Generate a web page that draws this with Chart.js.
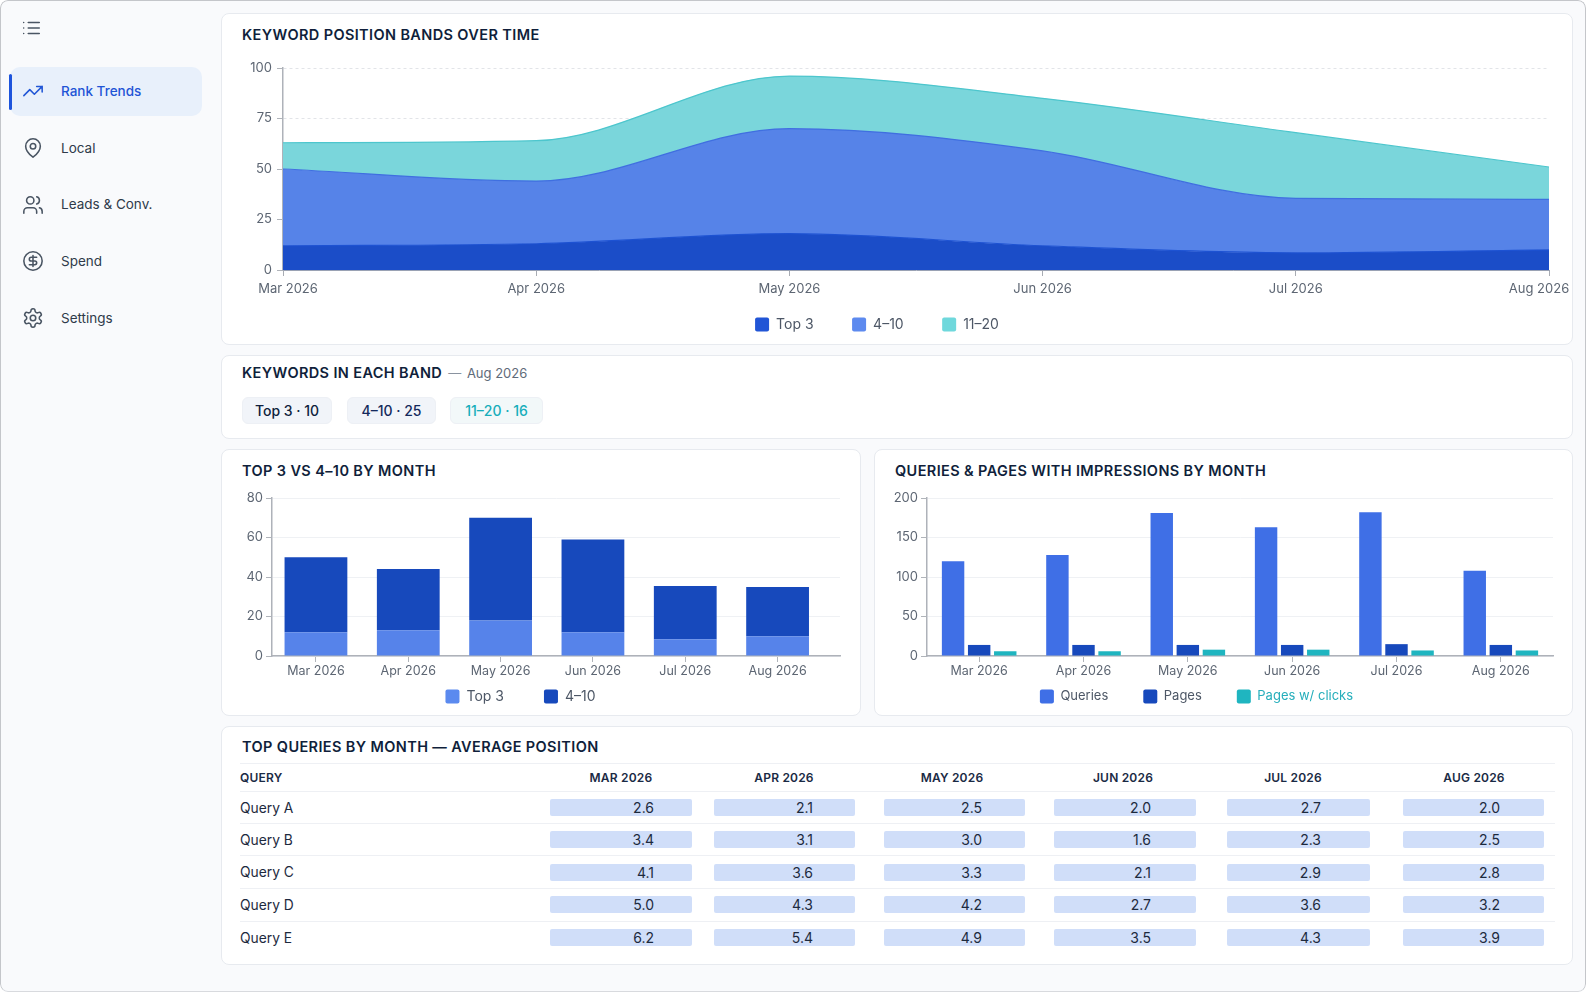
<!DOCTYPE html>
<html><head><meta charset="utf-8"><title>Rank Trends</title>
<script src="https://cdn.jsdelivr.net/npm/chart.js@4"></script>
<style>
*{box-sizing:border-box}
html,body{margin:0;padding:0;width:1586px;height:992px;overflow:hidden;background:#fff;font-family:Inter,"Noto Sans",sans-serif;color:#0f1f3d}
#frame{position:absolute;left:0;top:0;width:1586px;height:992px;background:#f9fafc;border-radius:8px;overflow:hidden}
#edge{position:absolute;left:0;top:0;width:1586px;height:992px;border:1.5px solid #c4c6ca;border-bottom-color:#d8dade;border-radius:8px;pointer-events:none}
.abs{position:absolute}
.card{position:absolute;background:#fff;border:1px solid #e7eaef;border-radius:8px}
.title{position:absolute;font-weight:600;font-size:14.5px;letter-spacing:.38px;line-height:18px;color:#101f3b;white-space:nowrap}
.title small{font-weight:400;font-size:13px;letter-spacing:0;color:#5f6b7a;margin-left:2px}
.title small i{font-style:normal;color:#8a93a0;margin-right:2px}
.nav{position:absolute;left:61px;font-size:13.5px;line-height:20px;color:#2f3a4a;white-space:nowrap}
.ico{position:absolute;left:22px;width:22px;height:22px;fill:none;stroke:#4a5563;stroke-width:1.7;stroke-linecap:round;stroke-linejoin:round}
.pill{position:absolute;top:397px;height:27px;border-radius:6px;background:#f1f4f9;border:1px solid #edf0f5;font-size:14px;line-height:26px;text-align:center;font-weight:500;white-space:nowrap}
canvas{position:absolute;display:block}
.th{position:absolute;font-size:12px;font-weight:600;letter-spacing:.2px;line-height:16px;color:#1a2a44;white-space:nowrap}
.rule{position:absolute;left:240px;width:1315px;height:1px;background:#eef0f4}
.qname{position:absolute;left:240px;font-size:13.8px;line-height:20px;color:#1d2a3e;white-space:nowrap}
.cell{position:absolute;height:17px;border-radius:2px;background:#d0def9;font-size:14px;line-height:17px;color:#1d2a3e;text-align:right;white-space:nowrap}
</style></head>
<body>
<div id="frame">
  <svg class="ico" style="left:20px;top:17px" viewBox="0 0 24 24"><path d="M9 6h12M9 12h12M9 18h12M4 6h.01M4 12h.01M4 18h.01"/></svg>
  <div class="abs" style="left:10px;top:67px;width:192px;height:49px;border-radius:10px;background:#e8f0fb"></div>
  <div class="abs" style="left:9px;top:74px;width:3px;height:36px;border-radius:2px;background:#1d54dc"></div>
  <svg class="ico" style="top:80px;stroke:#2257d6" viewBox="0 0 24 24"><path d="M22 7 13.5 15.5 8.5 10.5 2 17M16 7h6v6"/></svg>
  <div class="nav" style="top:81px;color:#1f55d6;font-weight:500">Rank Trends</div>
  <svg class="ico" style="top:137px" viewBox="0 0 24 24"><path d="M20 10c0 6-8 12-8 12s-8-6-8-12a8 8 0 0 1 16 0Z"/><circle cx="12" cy="10" r="3"/></svg>
  <div class="nav" style="top:138px">Local</div>
  <svg class="ico" style="top:194px" viewBox="0 0 24 24"><path d="M16 21v-2a4 4 0 0 0-4-4H6a4 4 0 0 0-4 4v2M22 21v-2a4 4 0 0 0-3-3.87M16 3.13a4 4 0 0 1 0 7.75"/><circle cx="9" cy="7" r="4"/></svg>
  <div class="nav" style="top:194px">Leads &amp; Conv.</div>
  <svg class="ico" style="top:250px" viewBox="0 0 24 24"><circle cx="12" cy="12" r="10"/><path d="M16 8h-6a2 2 0 1 0 0 4h4a2 2 0 1 1 0 4H8M12 18V6"/></svg>
  <div class="nav" style="top:251px">Spend</div>
  <svg class="ico" style="top:307px" viewBox="0 0 24 24"><path d="M12.22 2h-.44a2 2 0 0 0-2 2v.18a2 2 0 0 1-1 1.73l-.43.25a2 2 0 0 1-2 0l-.15-.08a2 2 0 0 0-2.73.73l-.22.38a2 2 0 0 0 .73 2.73l.15.1a2 2 0 0 1 1 1.72v.51a2 2 0 0 1-1 1.74l-.15.09a2 2 0 0 0-.73 2.73l.22.38a2 2 0 0 0 2.73.73l.15-.08a2 2 0 0 1 2 0l.43.25a2 2 0 0 1 1 1.73V20a2 2 0 0 0 2 2h.44a2 2 0 0 0 2-2v-.18a2 2 0 0 1 1-1.73l.43-.25a2 2 0 0 1 2 0l.15.08a2 2 0 0 0 2.73-.73l.22-.39a2 2 0 0 0-.73-2.73l-.15-.08a2 2 0 0 1-1-1.74v-.5a2 2 0 0 1 1-1.74l.15-.09a2 2 0 0 0 .73-2.73l-.22-.38a2 2 0 0 0-2.73-.73l-.15.08a2 2 0 0 1-2 0l-.43-.25a2 2 0 0 1-1-1.73V4a2 2 0 0 0-2-2z"/><circle cx="12" cy="12" r="3"/></svg>
  <div class="nav" style="top:308px">Settings</div>

  <div class="card" style="left:221px;top:13px;width:1352px;height:332px"></div>
  <div class="title" style="left:242px;top:26px">KEYWORD POSITION BANDS OVER TIME</div>

  <div class="card" style="left:221px;top:355px;width:1352px;height:84px"></div>
  <div class="title" style="left:242px;top:364px">KEYWORDS IN EACH BAND <small><i>—</i> Aug 2026</small></div>
  <div class="pill" style="left:242px;width:90px">Top 3 · 10</div>
  <div class="pill" style="left:347px;width:89px;color:#13295c">4–10 · 25</div>
  <div class="pill" style="left:450px;width:93px;color:#17aebb;background:#f2f8f9">11–20 · 16</div>

  <div class="card" style="left:221px;top:449px;width:640px;height:267px"></div>
  <div class="title" style="left:242px;top:462px">TOP 3 VS 4–10 BY MONTH</div>
  <div class="card" style="left:874px;top:449px;width:699px;height:267px"></div>
  <div class="title" style="left:895px;top:462px">QUERIES &amp; PAGES WITH IMPRESSIONS BY MONTH</div>

  <div class="card" style="left:221px;top:726px;width:1352px;height:239px"></div>
  <div class="title" style="left:242px;top:738px">TOP QUERIES BY MONTH — AVERAGE POSITION</div>
  <div id="table"></div>

  <canvas id="bands" width="1364" height="296" style="left:221px;top:50px"></canvas>
  <canvas id="stack" width="640" height="262" style="left:221px;top:470px"></canvas>
  <canvas id="group" width="700" height="262" style="left:874px;top:470px"></canvas>
  <div id="edge"></div>
</div>
<script>
// ---- data ----
const months = ["Mar 2026","Apr 2026","May 2026","Jun 2026","Jul 2026","Aug 2026"];
const top3   = [12,13,18,12,8.5,10];
const band4  = [38,31,52,47,27,25];
const band11 = [13,20,26,26,32.5,16];
const queries    = [120,128,181,163,182,108];
const pages      = [14,14,14,14,15,14];
const pagesClicks= [6,6,8,8,7,7];
const tableMonths = ["MAR 2026","APR 2026","MAY 2026","JUN 2026","JUL 2026","AUG 2026"];
const queryNames = ["Query A","Query B","Query C","Query D","Query E"];
const queryA = ["2.6","2.1","2.5","2.0","2.7","2.0"];
const queryB = ["3.4","3.1","3.0","1.6","2.3","2.5"];
const queryC = ["4.1","3.6","3.3","2.1","2.9","2.8"];
const queryD = ["5.0","4.3","4.2","2.7","3.6","3.2"];
const queryE = ["6.2","5.4","4.9","3.5","4.3","3.9"];
// ---- table layout ----
const queryRows = [queryA,queryB,queryC,queryD,queryE];
const colBox = [[550,142,38],[714,141,42],[884,141,43],[1054,142,45],[1227,143,49],[1403,141,44]];
const headCx = [621,784,952,1123,1293,1474];
const rowCy  = [807.5,839.5,872,904.5,937.5];
const ruleY  = [763,791,823,855,888,921];
const tb = document.getElementById('table');
function add(cls,css,text){const d=document.createElement('div');d.className=cls;d.style.cssText=css;if(text)d.textContent=text;tb.appendChild(d);}
ruleY.forEach(y=>add('rule',`top:${y}px`));
add('th','left:240px;top:770px','QUERY');
tableMonths.forEach((m,i)=>add('th',`left:${headCx[i]-60}px;width:120px;text-align:center;top:770px`,m));
queryNames.forEach((q,r)=>{
  add('qname',`top:${rowCy[r]-10}px`,q);
  queryRows[r].forEach((v,c)=>{const b=colBox[c];
    add('cell',`left:${b[0]}px;width:${b[1]}px;padding-right:${b[2]}px;top:${rowCy[r]-8.5}px`,v);});
});
// ---- charts ----
Chart.defaults.animation=false;
Chart.defaults.font.family='Inter, "Noto Sans", sans-serif';
Chart.defaults.responsive=false;
const TICK='#5d6673', AXIS='#aeb2b9';
// keeps the legend box a fixed height, pins its row, nudges edge tick labels as in the reference
const pin={id:'pin',
  beforeLayout(ch){const lg=ch.legend;if(lg&&!lg.__w){lg.__w=1;const f=lg.fit;lg.fit=function(){f.call(this);this.height=30;};}},
  afterLayout(ch,a,o){const lg=ch.legend;const pad=lg.options.labels.padding;
    lg.top=o.legendY-pad-8;lg.height=pad+30;lg.bottom=lg.top+lg.height;
    lg.left+=o.legendDx;lg.right+=o.legendDx;
    if(o.edge){const it=ch.scales.x.getLabelItems();it[0].options.translation[0]+=o.edge[0];it[it.length-1].options.translation[0]+=o.edge[1];}}
};
function legendOpts(pad,size,colors,textColors){return {position:'bottom',labels:{
  boxWidth:14,boxHeight:14,padding:pad,useBorderRadius:true,borderRadius:2,color:'#4d5766',font:{size},
  generateLabels(ch){return Chart.defaults.plugins.legend.labels.generateLabels(ch).map((l,i)=>{
    l.fillStyle=colors[i];l.strokeStyle=colors[i];l.lineWidth=0;
    if(textColors&&textColors[i])l.fontColor=textColors[i];return l;});}
}};}
function yAxis(max,step,w,grid,dash,pad){return {min:0,max,stacked:false,afterFit(s){s.width=w;},
  border:{display:true,color:AXIS,width:1.5,dash:dash||[]},
  grid:Object.assign({color:'#eff1f4',tickColor:'#b0b4ba',tickLength:6,lineWidth:1,tickBorderDash:[]},grid||{}),
  ticks:{stepSize:step,color:TICK,font:{size:13},padding:pad||3}};}

new Chart(document.getElementById('bands'),{type:'line',plugins:[pin],
  data:{labels:months,datasets:[
    {label:'Top 3',data:top3,fill:'origin',backgroundColor:'#1b4dc8',borderColor:'#1d52d2'},
    {label:'4–10',data:band4,fill:'-1',backgroundColor:'#5683e8',borderColor:'#3f6fe0'},
    {label:'11–20',data:band11,fill:'-1',backgroundColor:'#7ad6db',borderColor:'#4dc6cd'}
  ].map(d=>Object.assign(d,{pointRadius:0,borderWidth:1.2,cubicInterpolationMode:'monotone'}))},
  options:{layout:{padding:{top:18,right:36,left:0,bottom:0}},
    plugins:{tooltip:{enabled:false},pin:{legendY:275.5,legendDx:-8,edge:[5,-10]},
      legend:legendOpts(38.5,14,['#2155d6','#5d8aef','#6fd8dc'])},
    scales:{
      x:{afterFit(s){s.height=46;},border:{display:true,color:'#9aa2b4',width:1},
        grid:{drawOnChartArea:false,tickColor:'#a8acb3',tickLength:6},
        ticks:{color:TICK,font:{size:13},padding:5,maxRotation:0,autoSkip:false}},
      y:Object.assign(yAxis(100,25,62,{color:'#e2e4e8'},[3,3],5),{stacked:true})
    }}});

new Chart(document.getElementById('stack'),{type:'bar',plugins:[pin],
  data:{datasets:[
    {label:'Top 3',data:top3.map((v,i)=>({x:i,y:v})),backgroundColor:'#5683ea'},
    {label:'4–10',data:band4.map((v,i)=>({x:i,y:v})),backgroundColor:'#1749bc'}
  ].map(d=>Object.assign(d,{barPercentage:.68,categoryPercentage:1,borderWidth:0}))},
  options:{layout:{padding:{top:28,right:21,left:0,bottom:0}},
    plugins:{tooltip:{enabled:false},pin:{legendY:227.5,legendDx:-10},legend:legendOpts(40,14,['#5b8aef','#1749bc'])},
    scales:{
      x:{type:'linear',stacked:true,offset:false,min:-0.476,max:5.676,afterFit(s){s.height=46;},
        border:{display:true,color:AXIS,width:1.5},
        grid:{offset:false,drawOnChartArea:false,tickColor:'#b0b4ba',tickLength:6},
        ticks:{stepSize:1,includeBounds:false,color:TICK,font:{size:12.5},padding:2,maxRotation:0,autoSkip:false,callback:v=>months[v]}},
      y:Object.assign(yAxis(80,20,51),{stacked:true})
    }}});

new Chart(document.getElementById('group'),{type:'bar',plugins:[pin],
  data:{labels:months,datasets:[
    {label:'Queries',data:queries,backgroundColor:'#3f6fe6'},
    {label:'Pages',data:pages,backgroundColor:'#1749bc'},
    {label:'Pages w/ clicks',data:pagesClicks,backgroundColor:'#1fb5c0'}
  ].map(d=>Object.assign(d,{barPercentage:.86,categoryPercentage:.75,borderWidth:0}))},
  options:{layout:{padding:{top:28,right:21,left:0,bottom:0}},
    plugins:{tooltip:{enabled:false},pin:{legendY:227.5,legendDx:-17},
      legend:legendOpts(35,13,['#3f6fe6','#1749bc','#1fb5c0'],[null,null,'#25aebb'])},
    scales:{
      x:{afterFit(s){s.height=46;},border:{display:true,color:AXIS,width:1.5},
        grid:{offset:false,drawOnChartArea:false,tickColor:'#b0b4ba',tickLength:6},
        ticks:{color:TICK,font:{size:12.5},padding:2,maxRotation:0,autoSkip:false}},
      y:yAxis(200,50,53)
    }}});
</script>
</body></html>
